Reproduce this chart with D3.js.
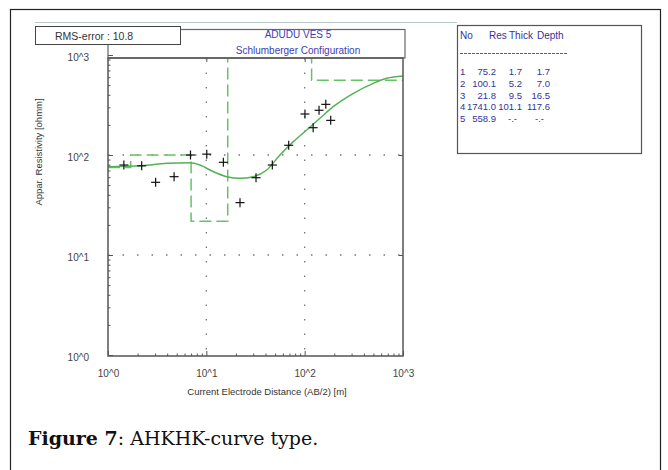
<!DOCTYPE html>
<html><head><meta charset="utf-8">
<script src="https://cdn.jsdelivr.net/npm/d3@7"></script>
<style>body{margin:0;background:#fff}svg{display:block}</style>
</head><body>
<svg id="c" width="668" height="470"></svg>
<script>
// ---- data ----
const obsAB2 = [1.45, 2.2, 3.05, 4.7, 6.9, 10.1, 14.9, 22, 32, 46.9, 68.8, 100.7, 122, 140, 164, 184];
const obsRho = [79.4, 78, 53.3, 60.7, 100, 102, 84.5, 33.4, 59.3, 79.4, 125, 257, 187.5, 280, 321, 222];
const calcAB2 = [1.0, 2.2, 3.95, 6.93, 8.62, 11.8, 16.1, 22, 30, 41.1, 56.1, 76.7, 105, 143, 195, 313, 499, 683, 1000];
const calcRho = [76.4, 78, 82.6, 83.8, 79.4, 68, 60.7, 58.5, 60.7, 70.8, 100, 136, 178, 233, 304, 414, 521, 585, 617];
const layerNo = ["1", "2", "3", "4", "5"];
const layerRes = [75.2, 100.1, 21.8, 1741.0, 558.9];
const layerThick = [1.7, 5.2, 9.5, 101.1, null];
const layerDepth = [1.7, 7.0, 16.5, 117.6, null];
const decadeTicks = [1, 10, 100, 1000];
const tickLabels = ["10^0", "10^1", "10^2", "10^3"];
const titleLines = ["ADUDU VES 5", "Schlumberger Configuration"];
const rmsText = "RMS-error : 10.8";
const xTitle = "Current Electrode Distance (AB/2) [m]";
const yTitle = "Appar. Resistivity [ohmm]";

// ---- layout ----
const svg = d3.select("#c");
const L = 108, R = 403, T = 58, B = 356;
const x = d3.scaleLog().domain([1, 1000]).range([L, R]);
const y = d3.scaleLog().domain([1, 1000]).range([355, 55]);
const font = "'Liberation Sans', Arial, sans-serif";
const axisCol = "#555";

// outer frame
svg.append("rect").attr("x", 10.5).attr("y", 9.5).attr("width", 650).attr("height", 480)
  .attr("fill", "none").attr("stroke", "#222").attr("stroke-width", 1.2);

// header lines / boxes
svg.append("line").attr("x1", 35).attr("x2", 457).attr("y1", 22.5).attr("y2", 22.5)
  .attr("stroke", "#b8c8c8").attr("stroke-width", 1);
svg.append("rect").attr("x", L).attr("y", 29.5).attr("width", R - L + 2).attr("height", T - 29.5)
  .attr("fill", "none").attr("stroke", "#666").attr("stroke-width", 1.2);
svg.append("rect").attr("x", 35.5).attr("y", 26.5).attr("width", 145).attr("height", 18)
  .attr("fill", "#fff").attr("stroke", "#444").attr("stroke-width", 1);
svg.append("text").attr("x", 55).attr("y", 40).attr("font-family", font).attr("font-size", 10.5)
  .attr("fill", "#333").text(rmsText);
svg.selectAll("text.title").data(titleLines).join("text").attr("class", "title")
  .attr("x", 298).attr("y", (d, i) => 38 + i * 16).attr("text-anchor", "middle")
  .attr("font-family", font).attr("font-size", 10).attr("fill", "#4040b0").text(d => d);

// clip
svg.append("clipPath").attr("id", "clip").append("rect")
  .attr("x", L).attr("y", T).attr("width", R - L).attr("height", B - T);

// grid
const grid = svg.append("g").attr("stroke", "#777").attr("stroke-width", 1.3)
  .attr("stroke-dasharray", "1.5,13");
[10, 100].forEach(v => {
  grid.append("line").attr("x1", x(v)).attr("x2", x(v)).attr("y1", T).attr("y2", B);
  grid.append("line").attr("x1", L).attr("x2", R).attr("y1", y(v)).attr("y2", y(v));
});

// minor ticks
const minor = [];
[1, 10, 100].forEach(d => { for (let k = 2; k <= 9; k++) minor.push(d * k); });
const styleAxis = g => { g.select(".domain").remove(); g.selectAll("line").attr("stroke", axisCol); };

svg.append("g").attr("transform", `translate(0,${B})`)
  .call(d3.axisBottom(x).tickValues(minor).tickSize(-2.5).tickFormat(""))
  .call(styleAxis);
svg.append("g").attr("transform", `translate(${L},0)`)
  .call(d3.axisLeft(y).tickValues(minor).tickSize(-2.5).tickFormat(""))
  .call(styleAxis);

// major ticks + labels
const gx = svg.append("g").attr("transform", `translate(0,${B})`)
  .call(d3.axisBottom(x).tickValues(decadeTicks).tickSize(-5).tickPadding(14)
    .tickFormat((d, i) => tickLabels[i]))
  .call(styleAxis);
gx.selectAll("text").attr("font-family", font).attr("font-size", 10).attr("fill", "#444");
const gy = svg.append("g").attr("transform", `translate(${L},0)`)
  .call(d3.axisLeft(y).tickValues(decadeTicks).tickSize(-5).tickPadding(19)
    .tickFormat((d, i) => tickLabels[i]))
  .call(styleAxis);
gy.selectAll("text").attr("font-family", font).attr("font-size", 10).attr("fill", "#444").attr("dy", "0.5em");
svg.append("g").attr("transform", `translate(0,${T})`)
  .call(d3.axisTop(x).tickValues([10, 100]).tickSize(-4).tickFormat(""))
  .call(styleAxis);
svg.append("g").attr("transform", `translate(${R},0)`)
  .call(d3.axisRight(y).tickValues([10, 100]).tickSize(-4).tickFormat(""))
  .call(styleAxis);

// model (dashed step)
const modelPts = [[1, layerRes[0]]];
layerDepth.forEach((d, i) => {
  if (d != null) { modelPts.push([d, layerRes[i]]); modelPts.push([d, layerRes[i + 1]]); }
});
modelPts.push([1000, layerRes[layerRes.length - 1]]);
const line = d3.line().x(d => x(d[0])).y(d => y(d[1]));
svg.append("path").attr("clip-path", "url(#clip)").attr("d", line(modelPts))
  .attr("fill", "none").attr("stroke", "#66c266").attr("stroke-width", 1.5)
  .attr("stroke-dasharray", "12,5");

// calculated curve
svg.append("path").attr("clip-path", "url(#clip)")
  .attr("d", d3.line().x((d, i) => x(calcAB2[i])).y((d, i) => y(calcRho[i])).curve(d3.curveMonotoneX)(calcAB2))
  .attr("fill", "none").attr("stroke", "#55b055").attr("stroke-width", 1.5);

// observed points (+)
const cross = svg.append("g").attr("stroke", "#111").attr("stroke-width", 1.2);
obsAB2.forEach((v, i) => {
  const px = x(v), py = y(obsRho[i]);
  cross.append("line").attr("x1", px - 4.5).attr("x2", px + 4.5).attr("y1", py).attr("y2", py);
  cross.append("line").attr("x1", px).attr("x2", px).attr("y1", py - 4.5).attr("y2", py + 4.5);
});

// plot frame
svg.append("rect").attr("x", L).attr("y", T).attr("width", R - L).attr("height", B - T)
  .attr("fill", "none").attr("stroke", axisCol).attr("stroke-width", 1.5);

// axis titles
svg.append("text").attr("x", 267).attr("y", 395).attr("text-anchor", "middle")
  .attr("font-family", font).attr("font-size", 9.5).attr("fill", "#333").text(xTitle);
svg.append("text").attr("transform", "translate(42,152) rotate(-90)").attr("text-anchor", "middle")
  .attr("font-family", font).attr("font-size", 9.5).attr("fill", "#333").text(yTitle);

// legend table
svg.append("rect").attr("x", 457.5).attr("y", 25.5).attr("width", 184).attr("height", 128)
  .attr("fill", "#fff").attr("stroke", "#555").attr("stroke-width", 1.2);
const lg = svg.append("g").attr("font-family", font).attr("font-size", 9.5).attr("fill", "#33339a");
[["No", 460], ["Res", 489], ["Thick", 509], ["Depth", 537]].forEach(([t, px]) =>
  lg.append("text").attr("x", px).attr("y", 39).attr("font-size", 10).text(t));
lg.append("line").attr("x1", 460).attr("x2", 568).attr("y1", 53.5).attr("y2", 53.5)
  .attr("stroke", "#5555aa").attr("stroke-width", 1).attr("stroke-dasharray", "3,1");
layerNo.forEach((n, i) => {
  const yy = 75 + i * 11.8;
  lg.append("text").attr("x", 460).attr("y", yy).text(n);
  lg.append("text").attr("x", 496).attr("y", yy).attr("text-anchor", "end").text(layerRes[i].toFixed(1));
  lg.append("text").attr("x", layerThick[i] == null ? 517 : 522).attr("y", yy).attr("text-anchor", "end")
    .text(layerThick[i] == null ? "-.-" : layerThick[i].toFixed(1));
  lg.append("text").attr("x", layerDepth[i] == null ? 544 : 550).attr("y", yy).attr("text-anchor", "end")
    .text(layerDepth[i] == null ? "-.-" : layerDepth[i].toFixed(1));
});

// caption
const cap = svg.append("text").attr("x", 28).attr("y", 445)
  .attr("font-family", "'DejaVu Serif', serif").attr("font-size", 19).attr("fill", "#111");
cap.append("tspan").attr("font-weight", "bold").text("Figure 7");
cap.append("tspan").text(": AHKHK-curve type.");
</script>
</body></html>
